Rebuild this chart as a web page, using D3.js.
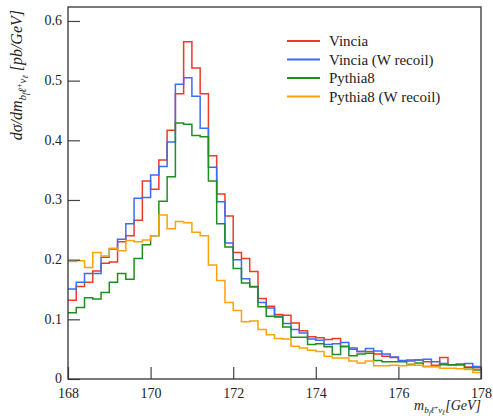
<!DOCTYPE html>
<html>
<head>
<meta charset="utf-8">
<script src="https://cdn.jsdelivr.net/npm/d3@7"></script>
<style>
body { margin: 0; background: #fff; }
svg { font-family: "Liberation Serif", "DejaVu Serif", serif; }
</style>
</head>
<body>
<svg width="493" height="420"></svg>
<script>
// bin lower edges: 168.0 .. 177.8, width 0.2
var binStart = 168
var binWidth = 0.2

var vincia = [0.132, 0.155, 0.162, 0.181, 0.194, 0.196, 0.230, 0.240, 0.266, 0.332,
	0.318, 0.367, 0.417, 0.478, 0.565, 0.521, 0.478, 0.374, 0.310, 0.273,
	0.212, 0.202, 0.180, 0.135, 0.122, 0.108, 0.107, 0.094, 0.081, 0.071,
	0.069, 0.066, 0.068, 0.054, 0.050, 0.046, 0.046, 0.042, 0.038, 0.036,
	0.030, 0.030, 0.032, 0.029, 0.023, 0.036, 0.024, 0.024, 0.020, 0.019]

var vinciaW = [0.151, 0.162, 0.177, 0.177, 0.204, 0.218, 0.234, 0.260, 0.303, 0.304,
	0.342, 0.356, 0.397, 0.494, 0.505, 0.474, 0.420, 0.355, 0.297, 0.228,
	0.200, 0.168, 0.154, 0.128, 0.119, 0.105, 0.093, 0.083, 0.077, 0.067,
	0.065, 0.058, 0.059, 0.061, 0.052, 0.046, 0.051, 0.047, 0.042, 0.037,
	0.031, 0.032, 0.032, 0.033, 0.029, 0.026, 0.024, 0.025, 0.026, 0.021]

var pythia = [0.111, 0.120, 0.136, 0.134, 0.145, 0.162, 0.177, 0.167, 0.202, 0.225,
	0.240, 0.298, 0.339, 0.429, 0.427, 0.408, 0.406, 0.332, 0.260, 0.221,
	0.185, 0.161, 0.155, 0.121, 0.105, 0.104, 0.087, 0.070, 0.070, 0.058,
	0.059, 0.054, 0.041, 0.055, 0.039, 0.042, 0.043, 0.031, 0.029, 0.029,
	0.029, 0.024, 0.027, 0.021, 0.021, 0.024, 0.024, 0.024, 0.019, 0.015]

var pythiaW = [0.197, 0.198, 0.187, 0.212, 0.206, 0.219, 0.215, 0.232, 0.230, 0.233,
	0.240, 0.275, 0.252, 0.264, 0.262, 0.246, 0.240, 0.191, 0.165, 0.128,
	0.115, 0.096, 0.097, 0.083, 0.074, 0.068, 0.067, 0.055, 0.052, 0.048,
	0.046, 0.038, 0.035, 0.035, 0.030, 0.027, 0.030, 0.022, 0.022, 0.023,
	0.022, 0.025, 0.023, 0.021, 0.021, 0.018, 0.018, 0.017, 0.016, 0.011]

var seriesNames = ["Vincia", "Vincia (W recoil)", "Pythia8", "Pythia8 (W recoil)"]
var seriesColors = ["#ee3a28", "#3a6cf5", "#1f8f1f", "#ffa10a"]
var xTicks = [168, 170, 172, 174, 176, 178]
var yTicks = [0, 0.1, 0.2, 0.3, 0.4, 0.5, 0.6]

var svg = d3.select("svg")
var sinistra = 68, destra = 481, alto = 7, basso = 379

var x = d3.scaleLinear().domain([168, 178]).range([sinistra, destra])
var y = d3.scaleLinear().domain([0, 0.6234]).range([basso, alto])

/*
PUNTI DEL GRADINO: (bordo sinistro, valore) + ultimo bordo destro
*/
function gradini(valori) {
	var punti = valori.map(function(v, i) { return [binStart + i * binWidth, v] })
	punti.push([binStart + valori.length * binWidth, valori[valori.length - 1]])
	return punti
}

var linea = d3.line()
	.x(function(d) { return x(d[0]) })
	.y(function(d) { return y(d[1]) })
	.curve(d3.curveStepAfter)

// istogrammi
var tutte = [vincia, vinciaW, pythia, pythiaW]
svg.append("g")
	.selectAll("path")
	.data(tutte)
	.enter().append("path")
	.attr("d", function(d) { return linea(gradini(d)) })
	.attr("fill", "none")
	.attr("stroke", function(d, i) { return seriesColors[i] })
	.attr("stroke-width", 1.5)

// assi: tacche verso l'interno
var gx = svg.append("g").attr("transform", "translate(0," + basso + ")")
gx.call(d3.axisBottom(x).tickValues(d3.range(168, 178.01, 0.5)).tickSize(-6).tickFormat(""))
gx.call(d3.axisBottom(x).tickValues(xTicks).tickSize(-12).tickPadding(9).tickFormat(d3.format("d")))

var gy = svg.append("g").attr("transform", "translate(" + sinistra + ",0)")
gy.call(d3.axisLeft(y).tickValues(d3.range(0, 0.621, 0.02)).tickSize(-6).tickFormat(""))
gy.call(d3.axisLeft(y).tickValues(yTicks).tickSize(-12).tickPadding(6).tickFormat(function(d) { return d == 0 ? "0" : d3.format(".1f")(d) }))
gy.selectAll(".tick text").attr("dy", "0.28em")

svg.selectAll(".domain").remove()
svg.selectAll(".tick line").attr("stroke", "#444").attr("stroke-width", 1.2)
svg.selectAll(".tick text").attr("font-size", 14).attr("fill", "#222")
	.attr("font-family", "Liberation Serif, serif")

// cornice
svg.append("rect")
	.attr("x", sinistra).attr("y", alto)
	.attr("width", destra - sinistra).attr("height", basso - alto)
	.attr("fill", "none").attr("stroke", "#333").attr("stroke-width", 1.3)

// legenda
var leg = svg.append("g")
	.selectAll("g")
	.data(seriesNames)
	.enter().append("g")
	.attr("transform", function(d, i) { return "translate(0," + (41 + i * 18.5) + ")" })
leg.append("line")
	.attr("x1", 287).attr("x2", 320)
	.attr("stroke", function(d, i) { return seriesColors[i] })
	.attr("stroke-width", 1.8)
leg.append("text")
	.attr("x", 329).attr("dy", "0.35em")
	.attr("font-size", 15).attr("fill", "#222")
	.text(function(d) { return d })

// etichetta asse y
var ly = svg.append("text")
	.attr("transform", "translate(22,10) rotate(-90)")
	.attr("text-anchor", "end")
	.attr("font-size", 16).attr("fill", "#222")
ly.append("tspan").attr("font-style", "italic").text("dσ/dm")
ly.append("tspan").attr("font-style", "italic").attr("font-size", 11).attr("dy", 4).text("b")
ly.append("tspan").attr("font-style", "italic").attr("font-size", 8).attr("dy", 2).text("f")
ly.append("tspan").attr("font-style", "italic").attr("font-size", 11).attr("dy", -2).text("ℓ")
ly.append("tspan").attr("font-size", 8).attr("dy", -4).text("+")
ly.append("tspan").attr("font-style", "italic").attr("font-size", 11).attr("dy", 4).text("ν")
ly.append("tspan").attr("font-style", "italic").attr("font-size", 8).attr("dy", 2).text("ℓ")
ly.append("tspan").attr("font-style", "italic").attr("dy", -6).text(" [pb/GeV]")

// etichetta asse x
var lx = svg.append("text")
	.attr("x", destra).attr("y", 410)
	.attr("text-anchor", "end")
	.attr("font-size", 14).attr("fill", "#222")
lx.append("tspan").attr("font-style", "italic").text("m")
lx.append("tspan").attr("font-style", "italic").attr("font-size", 9).attr("dy", 3).text("b")
lx.append("tspan").attr("font-style", "italic").attr("font-size", 7).attr("dy", 1.5).text("f")
lx.append("tspan").attr("font-style", "italic").attr("font-size", 9).attr("dy", -1.5).text("ℓ")
lx.append("tspan").attr("font-size", 7).attr("dy", -3.5).text("+")
lx.append("tspan").attr("font-style", "italic").attr("font-size", 9).attr("dy", 3.5).text("ν")
lx.append("tspan").attr("font-style", "italic").attr("font-size", 7).attr("dy", 1.5).text("ℓ")
lx.append("tspan").attr("font-style", "italic").attr("dy", -4.5).text("[GeV]")
</script>
</body>
</html>
